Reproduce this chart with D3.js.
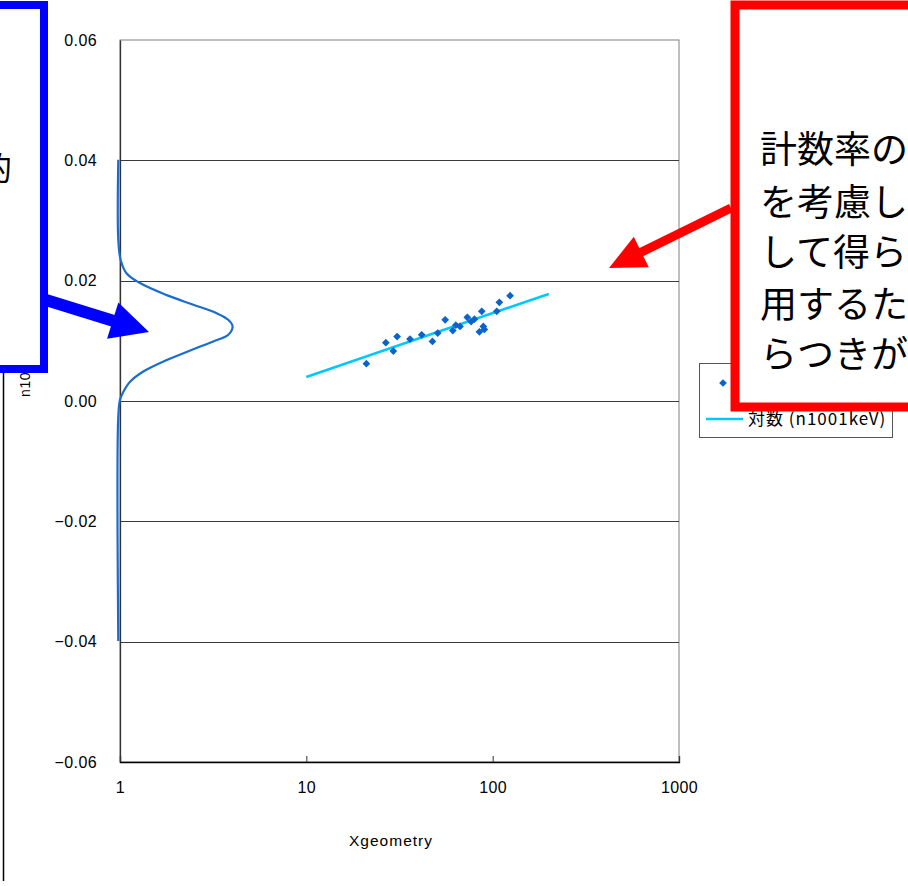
<!DOCTYPE html>
<html>
<head>
<meta charset="utf-8">
<script src="https://cdn.jsdelivr.net/npm/d3@7"></script>
<style>
  html, body { margin: 0; padding: 0; background: #fff; }
  svg { display: block; }
</style>
</head>
<body>
<svg id="chart" width="908" height="886"></svg>
<script>
// Measured points: Xgeometry vs n1001keV
const pointX = [21.0, 26.7, 29.3, 30.7, 36.0, 41.6, 47.5, 50.7, 55.6, 61.1, 63.4,
                66.8, 73.1, 76.6, 79.8, 87.4, 84.9, 89.1, 90.2, 105.2, 108.6, 124.0];
const pointY = [0.0062, 0.0097, 0.0083, 0.0107, 0.0103, 0.0110, 0.0099, 0.0113, 0.0135, 0.0117, 0.0126,
                0.0124, 0.0139, 0.0132, 0.0136, 0.0149, 0.0115, 0.0124, 0.0119, 0.0149, 0.0164, 0.0175];

// Logarithmic trend line end points
const trendX = [10, 200];
const trendY = [0.0040, 0.0178];

// Distribution curve drawn against the y axis
const distY = [0.0401, 0.0268, 0.0234, 0.0212, 0.0196, 0.0176, 0.0160, 0.0146, 0.0135, 0.0124,
               0.0110, 0.0099, 0.0086, 0.0068, 0.0049, 0.0032, 0.0015, 0.0002, -0.0026, -0.0399];
const distX = [0.979, 0.979, 1.009, 1.086, 1.280, 1.781, 2.475, 3.30, 3.81, 4.02,
               3.81, 3.17, 2.475, 1.781, 1.334, 1.132, 1.041, 1.0, 0.979, 0.979];

const xTicks = [1, 10, 100, 1000];
const yTicks = [-0.06, -0.04, -0.02, 0, 0.02, 0.04, 0.06];

const seriesName = "n1001keV";
const trendName = "対数 (n1001keV)";
const xTitle = "Xgeometry";
const yTitle = "n1001keV";

const noteLines = ["計数率の統計誤差", "を考慮した近似式", "して得られた値を", "用するため、値のば", "らつきが小さくなる"];
const leftNote = ["平均的"];

const svg = d3.select("#chart");
const plot = { left: 120, right: 679, top: 40, bottom: 762 };

const x = d3.scaleLog().domain([1, 1000]).range([plot.left, plot.right]);
const y = d3.scaleLinear().domain([-0.06, 0.06]).range([plot.bottom, plot.top]);

const tickFont = "'Liberation Sans', Arial, sans-serif";
const jpFont = "'Noto Sans CJK JP', sans-serif";

// plot frame and gridlines
svg.append("rect")
  .attr("x", plot.left).attr("y", plot.top)
  .attr("width", plot.right - plot.left).attr("height", plot.bottom - plot.top)
  .attr("fill", "#fff").attr("stroke", "#808080").attr("stroke-width", 1);

svg.append("g").selectAll("line")
  .data(yTicks.filter(d => d > -0.06 && d < 0.06))
  .join("line")
  .attr("x1", plot.left).attr("x2", plot.right)
  .attr("y1", d => Math.round(y(d)) + 0.5).attr("y2", d => Math.round(y(d)) + 0.5)
  .attr("stroke", "#3a3a3a").attr("stroke-width", 1);

// y axis
const yAxis = d3.axisLeft(y).tickValues(yTicks).tickSize(0).tickPadding(23)
  .tickFormat(d => (d < 0 ? "\u2212" : "") + d3.format(".2f")(Math.abs(d)));
const gy = svg.append("g").attr("transform", `translate(${plot.left},0)`).call(yAxis);
gy.select(".domain").attr("stroke", "#333").attr("stroke-width", 1.3);
gy.selectAll("text").attr("font-family", tickFont).attr("font-size", 16)
  .attr("fill", "#000").attr("letter-spacing", "0.4px");

// x axis
const xAxis = d3.axisBottom(x).tickValues(xTicks).tickSize(-6).tickPadding(20)
  .tickFormat(d3.format("d"));
const gx = svg.append("g").attr("transform", `translate(0,${plot.bottom})`).call(xAxis);
gx.select(".domain").attr("stroke", "#000").attr("stroke-width", 1.3);
gx.selectAll(".tick line").attr("stroke", "#333");
gx.selectAll("text").attr("font-family", tickFont).attr("font-size", 16)
  .attr("fill", "#000").attr("letter-spacing", "0.4px");

// axis titles
svg.append("text")
  .attr("x", 391).attr("y", 846)
  .attr("text-anchor", "middle").attr("font-family", tickFont).attr("font-size", 15.5)
  .attr("letter-spacing", "1px").text(xTitle);

svg.append("text")
  .attr("transform", "translate(30,397) rotate(-90)")
  .attr("text-anchor", "start").attr("font-family", tickFont).attr("font-size", 14)
  .attr("letter-spacing", "0.6px").text(yTitle);

// outer frame edge on the left
svg.append("line").attr("x1", 3.5).attr("x2", 3.5).attr("y1", 370).attr("y2", 881)
  .attr("stroke", "#000").attr("stroke-width", 1.5);

// distribution curve
const distData = distX.map((v, i) => [v, distY[i]]);
svg.append("path")
  .datum(distData)
  .attr("fill", "none").attr("stroke", "#1a6dd0").attr("stroke-width", 2.2)
  .attr("d", d3.line().x(d => x(d[0])).y(d => y(d[1])).curve(d3.curveCatmullRom.alpha(0.5)));

// logarithmic trend line
const trendData = trendX.map((v, i) => [v, trendY[i]]);
svg.append("path")
  .datum(trendData)
  .attr("fill", "none").attr("stroke", "#00c8ff").attr("stroke-width", 2.6)
  .attr("d", d3.line().x(d => x(d[0])).y(d => y(d[1])));

// scatter points
const diamond = d3.symbol().type(d3.symbolSquare).size(30);
svg.append("g").selectAll("path")
  .data(pointX.map((v, i) => [v, pointY[i]]))
  .join("path")
  .attr("d", diamond)
  .attr("transform", d => `translate(${x(d[0])},${y(d[1])}) rotate(45)`)
  .attr("fill", "#0a64cc");

// legend
const legend = svg.append("g");
legend.append("rect").attr("x", 699.5).attr("y", 363.5).attr("width", 193).attr("height", 74)
  .attr("fill", "#fff").attr("stroke", "#555").attr("stroke-width", 1);
legend.append("path").attr("d", diamond).attr("transform", "translate(723,383) rotate(45)")
  .attr("fill", "#0a64cc");
legend.append("text").attr("x", 748).attr("y", 389).attr("font-family", jpFont)
  .attr("font-size", 17).attr("letter-spacing", "1px").text(seriesName);
legend.append("line").attr("x1", 706).attr("x2", 743).attr("y1", 419).attr("y2", 419)
  .attr("stroke", "#00c8ff").attr("stroke-width", 2.6);
legend.append("text").attr("x", 748).attr("y", 425).attr("font-family", jpFont)
  .attr("font-size", 17).attr("letter-spacing", "1px").text(trendName);

// red callout: white panel over the legend, its text, then the outline
const red = svg.append("g");
red.append("rect").attr("x", 735).attr("y", 5).attr("width", 320).attr("height", 402)
  .attr("fill", "#fff").attr("stroke", "none");
red.selectAll("text").data(noteLines).join("text")
  .attr("x", 760).attr("y", (d, i) => [163, 216, 266, 318, 368][i])
  .attr("font-family", jpFont).attr("font-size", 37).attr("fill", "#000").text(d => d);
red.append("rect").attr("x", 735).attr("y", 5).attr("width", 320).attr("height", 402)
  .attr("fill", "none").attr("stroke", "#ff0000").attr("stroke-width", 9);

function arrow(g, x0, y0, x1, y1, width, headLen, headWidth, color) {
  const dx = x1 - x0, dy = y1 - y0, len = Math.hypot(dx, dy);
  const ux = dx / len, uy = dy / len, nx = -uy, ny = ux;
  const bx = x1 - ux * headLen, by = y1 - uy * headLen;
  g.append("line").attr("x1", x0).attr("y1", y0).attr("x2", bx + ux * 2).attr("y2", by + uy * 2)
    .attr("stroke", color).attr("stroke-width", width);
  g.append("path")
    .attr("d", `M${x1},${y1}L${bx + nx * headWidth / 2},${by + ny * headWidth / 2}L${bx - nx * headWidth / 2},${by - ny * headWidth / 2}Z`)
    .attr("fill", color);
}
arrow(svg.append("g"), 731, 208, 609, 268, 9, 36, 34, "#ff0000");

// blue callout: white panel, its text, then the outline on top
const blue = svg.append("g");
blue.append("rect").attr("x", -40).attr("y", 5).attr("width", 84).attr("height", 364)
  .attr("fill", "#fff").attr("stroke", "none");
blue.selectAll("text").data(leftNote).join("text")
  .attr("x", 12).attr("y", 180).attr("text-anchor", "end")
  .attr("font-family", jpFont).attr("font-size", 32).attr("fill", "#000").text(d => d);
blue.append("rect").attr("x", -40).attr("y", 5).attr("width", 84).attr("height", 364)
  .attr("fill", "none").attr("stroke", "#0000ff").attr("stroke-width", 8);
arrow(svg.append("g"), 46, 300, 149, 332, 12, 38, 38, "#0000ff");
</script>
</body>
</html>
